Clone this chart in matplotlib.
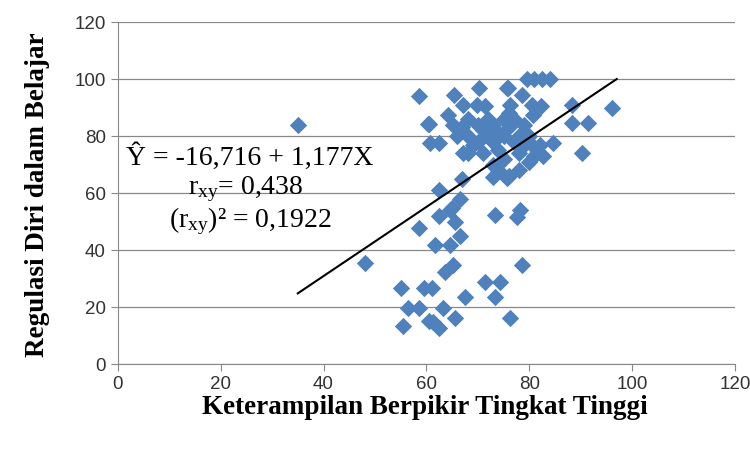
import matplotlib
matplotlib.use("Agg")
import matplotlib.pyplot as plt
import numpy as np

# Keterampilan Berpikir Tingkat Tinggi (X) and Regulasi Diri dalam Belajar (Y)
x_vals = [35, 48, 55, 55.5, 56.5, 58.5, 58.5, 59.5, 61, 60.5, 60.5, 62.5, 61.3, 60.7, 61.7,
          63.2, 62.5, 62.5, 62.5, 64.6, 63.6, 65.2, 64.6, 65.6, 66.5, 65, 66.5, 65.4,
          64.2, 60.3, 65.2, 67.1, 69.8, 71.4, 70.2, 75.7, 67.1, 67, 65.6, 67.5, 71.4,
          74.3, 73.3, 76.3, 73.3, 77.6, 78.2, 78.6, 73, 75.7, 58.6,
          66, 67, 68, 68, 69, 68, 70, 70, 71, 71, 72, 72, 73, 73, 74, 74, 75, 75,
          76, 76, 77, 77, 78, 78, 79, 79, 80, 80, 81, 81, 82, 73, 74, 75, 76, 78,
          79.5, 81, 82.5, 84, 75.9, 78.6, 80.5, 76.3, 80.7, 82.3, 84.6, 82.7,
          88.3, 96.1, 88.3, 91.4, 90.3]
y_vals = [84, 35.4, 26.7, 13.5, 19.6, 19.6, 47.7, 26.7, 26.7, 15, 84.2, 12.6, 14.7, 77.5,
          41.7, 19.6, 61, 52, 77.5, 41.7, 32.3, 34.7, 54, 49.8, 45, 54.7, 58, 94.4,
          87.4, 84.2, 83.9, 90.9, 90.9, 90.5, 97, 97, 74, 65, 16.1, 23.5, 28.8,
          28.8, 23.5, 16.1, 52.3, 51.6, 54, 34.7, 65.6, 65.3, 94,
          80, 83, 86, 80, 77, 74, 84, 78, 82, 74, 80, 86, 78, 84, 81, 75, 86, 80,
          88, 83, 78, 86, 80, 74, 77, 84, 71, 80, 76, 73, 77, 70, 68, 72, 66, 68,
          100, 100, 100, 100, 97, 94.4, 91, 91, 87.4, 90.5, 77.5, 73,
          91, 90, 84.6, 84.6, 74]

# Regression line drawn in the chart
trend_x = [35, 97]
trend_y = [24.8, 100]

x_ticks = [0, 20, 40, 60, 80, 100, 120]
y_ticks = [0, 20, 40, 60, 80, 100, 120]

plt.rcParams['mathtext.fontset'] = 'custom'
plt.rcParams['mathtext.rm'] = 'Liberation Serif'
plt.rcParams['mathtext.it'] = 'Liberation Serif:italic'

fig = plt.figure(figsize=(7.5, 4.5), dpi=100)
ax = fig.add_axes([0.157, 0.191, 0.823, 0.76])

ax.scatter(x_vals, y_vals, marker='D', s=78, color='#4F81BD', linewidths=0, zorder=3)
ax.plot(trend_x, trend_y, color='black', lw=1.5, zorder=4)

ax.set_xlim(0, 120)
ax.set_ylim(0, 120)
ax.set_xticks(x_ticks)
ax.set_yticks(y_ticks)
ax.yaxis.grid(True, color='#888888', lw=0.9)
ax.set_axisbelow(True)
for s in ['top', 'right']:
    ax.spines[s].set_visible(False)
for s in ['left', 'bottom']:
    ax.spines[s].set_color('#888888')
ax.tick_params(direction='out', length=5, color='#888888', labelsize=13.5, labelcolor='#333333')
for lab in ax.get_xticklabels() + ax.get_yticklabels():
    lab.set_family('Liberation Sans')

fig.text(425 / 750, 1 - 408 / 450, 'Keterampilan Berpikir Tingkat Tinggi',
         family='Liberation Serif', fontweight='bold', fontsize=19.5,
         ha='center', va='center')
fig.text(38 / 750, 1 - 195 / 450, 'Regulasi Diri dalam Belajar',
         family='Liberation Serif', fontweight='bold', fontsize=19.5,
         ha='center', va='center', rotation=90)

ax.text(25.6, 72.6, 'Ŷ = -16,716 + 1,177X', family='Liberation Serif', fontsize=20,
        ha='center', va='center')
ax.text(24.8, 61.4, r'r$_{\mathrm{xy}}$= 0,438', family='Liberation Serif', fontsize=20,
        ha='center', va='center')
ax.text(25.8, 50.2, r'(r$_{\mathrm{xy}}$)² = 0,1922', family='Liberation Serif', fontsize=20,
        ha='center', va='center')

fig.savefig('out.png', dpi=100)
